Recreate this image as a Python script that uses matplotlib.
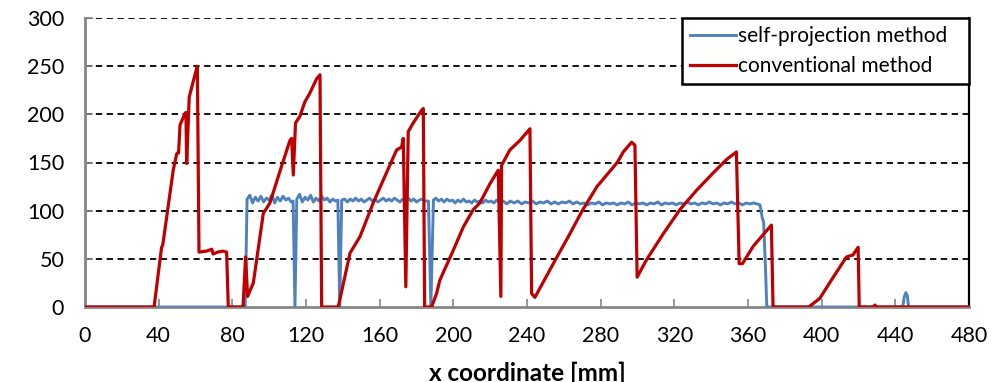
import matplotlib
matplotlib.use("Agg")
import matplotlib.pyplot as plt

plt.rcParams['font.family'] = ['Lato', 'DejaVu Sans']

# conventional method: x [mm], value
conv_x = [0, 37.5, 41.6, 42.2, 47.9, 49.8, 50.3, 50.8, 51.6, 54.3, 54.8, 55.2, 56.6, 59.7, 61.0,
          61.9, 66.0, 68.8, 69.6, 72.0, 75.0, 76.9, 77.8, 85.8, 87.2, 88.3, 91.4, 95.0, 96.8,
          100.4, 106.7, 111.3, 112.2, 113.1, 114.3, 116.7, 119.4, 122.1, 125.8, 127.6, 128.5,
          137.5, 143.9, 149.3, 156.5, 162.0, 169.2, 171.9, 172.8, 174.2, 175.5, 178.2, 182.7,
          183.7, 184.4, 188.2, 190.9, 192.7, 200.0, 205.4, 210.8, 214.4, 219.9, 224.4, 225.8,
          226.2, 230.7, 236.2, 241.6, 242.5, 244.3, 255.7, 263.0, 270.0, 278.0, 289.0, 292.3,
          296.8, 298.6, 299.8, 304.9, 314.0, 323.0, 332.0, 341.0, 348.3, 353.7, 355.2, 357.0,
          362.8, 372.7, 373.6, 393.0, 399.0, 406.3, 413.5, 417.0, 419.8, 420.4, 428.0, 428.9,
          429.8, 480]
conv_y = [0, 0, 62, 64, 142, 159, 160, 160, 189, 201, 202, 149, 218, 241, 250,
          57, 58, 60, 55, 57, 58, 57, 0, 0, 52, 11, 25, 73, 97,
          108, 146, 173, 175, 137, 191, 198, 213, 222, 237, 241, 0,
          0, 56, 73, 108, 132, 163, 166, 175, 21, 182, 191, 204,
          206, 0, 0, 14, 28, 59, 83, 101, 108, 128, 142, 11,
          147, 163, 173, 185, 14, 10, 50, 75, 100, 125, 150, 161,
          171, 168, 31, 49, 76, 101, 121, 139, 153, 161, 45, 45,
          63, 85, 0, 0, 9, 31, 52, 54, 62, 0, 0, 2,
          0, 0]

# self-projection method: x [mm], value
self_x = [0, 87.0, 88.0, 89.5, 91.0, 92.5, 94.0, 95.5, 97.0, 98.5, 100.0, 101.5, 103.0, 104.5,
          106.0, 107.5, 109.0, 110.5, 112.0, 113.0, 114.0, 115.0, 116.5, 118.0, 119.5, 121.0,
          122.5, 124.0, 125.5, 127.0, 128.5, 130.0, 131.5, 133.0, 134.5, 136.0, 137.3, 138.3,
          139.4, 141.0, 142.5, 144.0, 145.5, 147.0, 148.5, 150.0, 151.5, 153.0, 154.5, 156.0,
          157.5, 159.0, 160.5, 162.0, 163.5, 165.0, 166.5, 168.0, 169.5, 171.0, 172.5, 174.0,
          175.5, 177.0, 178.5, 180.0, 181.5, 183.0, 184.5, 186.5, 187.8, 189.2, 190.5, 192.0,
          193.5, 195.0, 196.5, 198.0, 199.5, 201.0, 202.5, 204.0, 205.5, 207.0, 208.5, 210.0,
          211.5, 213.0, 214.5, 216.0, 217.5, 219.0, 220.5, 222.0, 223.5, 225.0, 227.0, 229.0,
          231.0, 233.0, 235.0, 237.0, 239.0, 241.0, 243.0, 245.0, 247.0, 249.0, 251.0, 253.0,
          255.0, 257.0, 259.0, 261.0, 263.0, 265.0, 267.0, 269.0, 271.0, 273.0, 275.0, 277.0,
          279.0, 281.0, 283.0, 285.0, 287.0, 289.0, 291.0, 293.0, 295.0, 297.0, 299.0, 301.0,
          303.0, 305.0, 307.0, 309.0, 311.0, 313.0, 315.0, 317.0, 319.0, 321.0, 323.0, 325.0,
          327.0, 329.0, 331.0, 333.0, 335.0, 337.0, 339.0, 341.0, 343.0, 345.0, 347.0, 349.0,
          351.0, 353.0, 355.0, 357.0, 359.0, 361.0, 363.0, 365.0, 366.5, 367.8, 368.5, 369.5,
          370.2, 444.0, 444.8, 445.7, 446.5, 447.2, 480]
self_y = [0, 0, 112, 116, 108, 114, 110, 115, 109, 113, 111, 116, 108, 114,
          110, 115, 111, 113, 109, 110, 0, 112, 117, 109, 114, 111,
          116, 109, 113, 110, 115, 111, 113, 109, 112, 110, 111, 0,
          111, 112, 109, 112, 110, 113, 110, 112, 109, 111, 113, 110,
          112, 109, 111, 113, 110, 112, 110, 113, 111, 109, 112, 110,
          113, 110, 112, 109, 111, 112, 110, 110, 0, 111, 113, 110,
          112, 109, 112, 110, 111, 108, 111, 109, 112, 109, 110, 108,
          111, 109, 110, 108, 111, 109, 110, 108, 111, 109, 110, 107,
          110, 108, 110, 107, 109, 108, 110, 107, 109, 108, 110, 107,
          109, 107, 109, 108, 110, 107, 109, 107, 108, 106, 108, 107,
          109, 106, 108, 107, 108, 106, 108, 107, 109, 106, 108, 107,
          108, 106, 108, 107, 109, 106, 108, 107, 108, 106, 108, 107,
          109, 107, 108, 106, 108, 107, 109, 107, 108, 106, 108, 107,
          109, 107, 108, 106, 108, 107, 108, 107, 106, 92, 88, 40,
          0, 0, 10, 15, 12, 0, 0]

x_ticks = list(range(0, 481, 40))
y_ticks = list(range(0, 301, 50))

BLUE = '#4F81BD'
RED = '#C00000'
GRAY = '#868686'

fig = plt.figure(figsize=(9.92, 3.82), dpi=100)
ax = fig.add_axes([85 / 992, 1 - 307 / 382, (969 - 85) / 992, (307 - 18) / 382])

ax.plot(self_x, self_y, color=BLUE, lw=2.1, label='self-projection method', zorder=3)
ax.plot(conv_x, conv_y, color=RED, lw=2.3, label='conventional method', zorder=4)

ax.set_xlim(0, 480)
ax.set_ylim(0, 300)
ax.set_xticks(x_ticks)
ax.set_yticks(y_ticks)
ax.tick_params(axis='both', direction='in', length=6, width=1.2, color=GRAY,
               labelsize=15.5)
ax.tick_params(axis='x', pad=14)
ax.tick_params(axis='y', pad=15)

for y in y_ticks[1:]:
    ax.axhline(y, color='black', lw=1.3, ls=(0, (3.5, 2.5)), zorder=1)

ax.spines['top'].set_visible(False)
ax.spines['left'].set_color(GRAY)
ax.spines['left'].set_linewidth(2)
ax.spines['bottom'].set_color(GRAY)
ax.spines['bottom'].set_linewidth(2)
ax.spines['right'].set_color('black')
ax.spines['right'].set_linewidth(1.6)

ax.set_xlabel('x coordinate [mm]', fontsize=17.5, fontweight='bold')
ax.xaxis.set_label_coords(0.5, -0.19)

leg = ax.legend(loc='upper right', bbox_to_anchor=(0.675, 0.0, 0.325, 1.0),
                mode='expand', borderaxespad=0,
                fontsize=15, frameon=True, fancybox=False, framealpha=1.0,
                handlelength=2.25, handletextpad=0.05, labelspacing=0.5,
                borderpad=0.38, handleheight=0.7)
leg.get_frame().set_edgecolor('black')
leg.get_frame().set_linewidth(1.8)
leg.set_zorder(10)

fig.savefig('out.png', dpi=100)
